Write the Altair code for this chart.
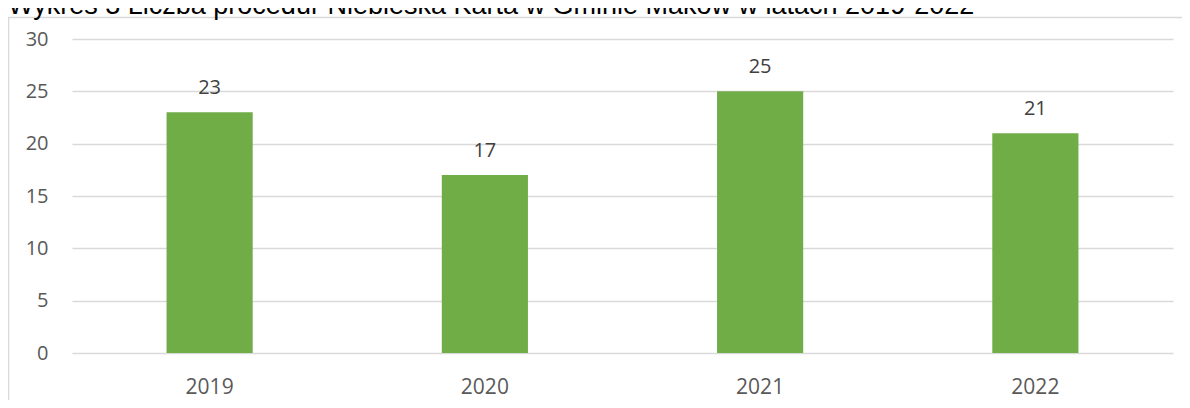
import altair as alt
import pandas as pd

title_text = "Wykres 3 Liczba procedur Niebieska Karta w Gminie Maków w latach 2019-2022"
years = ["2019", "2020", "2021", "2022"]
values = [23, 17, 25, 21]
y_ticks = [0, 5, 10, 15, 20, 25, 30]

df = pd.DataFrame({"rok": years, "liczba": values})

W, H = 1101, 314
PAD_L, PAD_T = 64, 31

x_enc = alt.X(
    "rok:N",
    sort=years,
    scale=alt.Scale(paddingInner=0.687, paddingOuter=0.3435),
    axis=alt.Axis(
        title=None, labelAngle=0, ticks=False, tickSize=0, domain=False, grid=False,
        labelFont="Open Sans", labelFontSize=21, labelColor="#595959",
        labelBaseline="alphabetic", labelPadding=40,
    ),
)
y_enc = alt.Y(
    "liczba:Q",
    scale=alt.Scale(domain=[0, 30], nice=False),
    axis=alt.Axis(
        title=None, values=y_ticks, ticks=False, tickSize=0, domain=False,
        grid=True, gridColor="#d9d9d9", gridWidth=1.3,
        labelFont="Open Sans", labelFontSize=20, labelColor="#595959",
        labelPadding=24,
    ),
)

base = alt.Chart(df)
bars = base.mark_bar(color="#70AD47").encode(x=x_enc, y=y_enc)
labels = base.mark_text(
    font="Open Sans", fontSize=20, color="#404040", baseline="alphabetic", dy=-18
).encode(x=alt.X("rok:N", sort=years), y="liczba:Q", text="liczba:Q")

frame = alt.Chart(pd.DataFrame({"a": [0]})).mark_rect(
    fill=None, stroke="#d9d9d9", strokeWidth=1.5
).encode(
    x=alt.value(-PAD_L + 0.5), x2=alt.value(W + 200),
    y=alt.value(-PAD_T + 9.5), y2=alt.value(H + 200),
)

title = alt.Chart(pd.DataFrame({"t": [title_text]})).mark_text(
    font="Liberation Sans", fontSize=27, color="#000000",
    align="left", baseline="alphabetic",
).encode(x=alt.value(-PAD_L), y=alt.value(-PAD_T + 6), text="t:N")

chart = alt.layer(frame, bars, labels, title).properties(
    width=W, height=H,
    autosize=alt.AutoSizeParams(type="none"),
    padding={"left": PAD_L, "top": PAD_T, "right": 1174 - PAD_L - W, "bottom": 392 - PAD_T - H},
).configure_view(stroke=None)

chart.save("out.html", embed_options={"renderer": "svg", "actions": False})
